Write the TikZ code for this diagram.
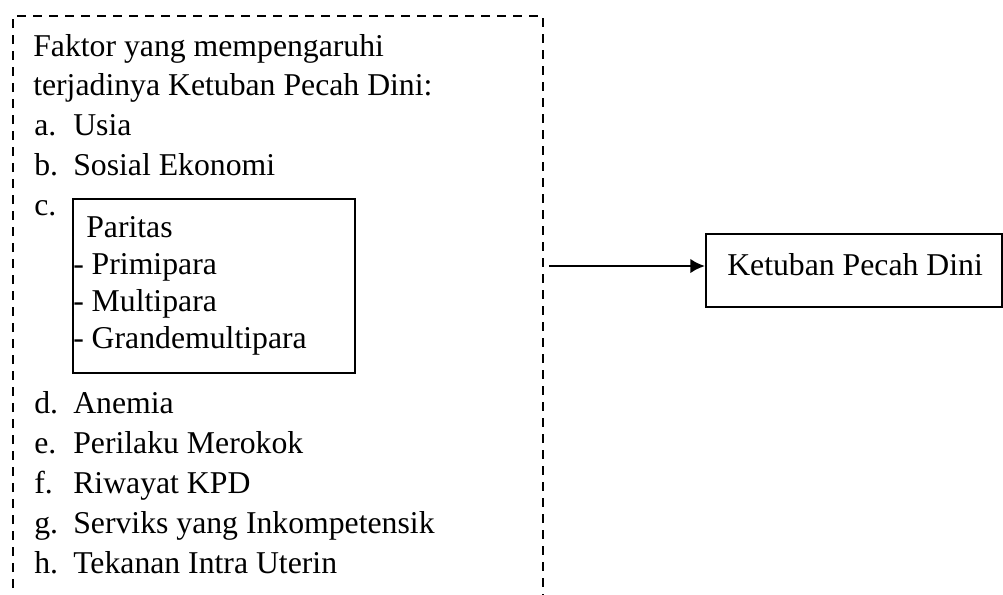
\documentclass[tikz,border=0pt]{standalone}
\usepackage{fontspec}
\setmainfont{Liberation Serif}
\usetikzlibrary{arrows.meta,positioning}

\newcommand\listfont{\fontsize{23.8}{30}\selectfont}

\tikzset{
	txt/.style={anchor=base west,inner sep=0pt,font=\listfont},
	solidbox/.style={draw,line width=1.25pt},
	dashbox/.style={draw,line width=1.5pt,dash pattern=on 7pt off 5pt},
	link/.style={-{Latex[length=11pt,width=11pt]},line width=2pt}
}

\begin{document}
\begin{tikzpicture}[x=0.75pt,y=-0.75pt]
		\useasboundingbox (0,0) rectangle (1003,594);
		% open dashed frame round the factors
		\draw[dashbox] (13,620) -- (13,16) -- (543,16) -- (543,620);
		\node[txt] (head1) at (33,56) {Faktor yang mempengaruhi};
		\node[txt] (head2) at (33,95) {terjadinya Ketuban Pecah Dini:};
		\node[txt] (lbla) at (34,135) {a.};
		\node[txt] (itema) at (73,135) {Usia};
		\node[txt] (lblb) at (34,175) {b.};
		\node[txt] (itemb) at (73,175) {Sosial Ekonomi};
		\node[txt] (lblc) at (34,215) {c.};
		% parity box
		\node[solidbox,anchor=north west,minimum width=211.5pt,minimum height=130.5pt] (parity) at (72,198) {};
		\node[txt] (par0) at (86,237) {Paritas};
		\foreach \t [count=\i] in {Primipara,Multipara,Grandemultipara}
			\node[txt] (par\i) at (73,237+37*\i) {- \t};
		\foreach \l/\t [count=\i] in {d/Anemia,e/Perilaku Merokok,f/Riwayat KPD,g/Serviks yang Inkompetensik,h/Tekanan Intra Uterin}{
			\node[txt] (lbl\l) at (34,373+40*\i) {\l.};
			\node[txt] (item\l) at (73,373+40*\i) {\t};
		}
		% outcome
		\node[solidbox,anchor=north west,minimum width=222pt,minimum height=54.75pt] (outcome) at (705,233) {};
		\node[txt] (outtxt) at (727,275) {Ketuban Pecah Dini};
		\coordinate (src) at (549,266);
		\draw[link] (src) -- (src -| outcome.west);
	\end{tikzpicture}
\end{document}
